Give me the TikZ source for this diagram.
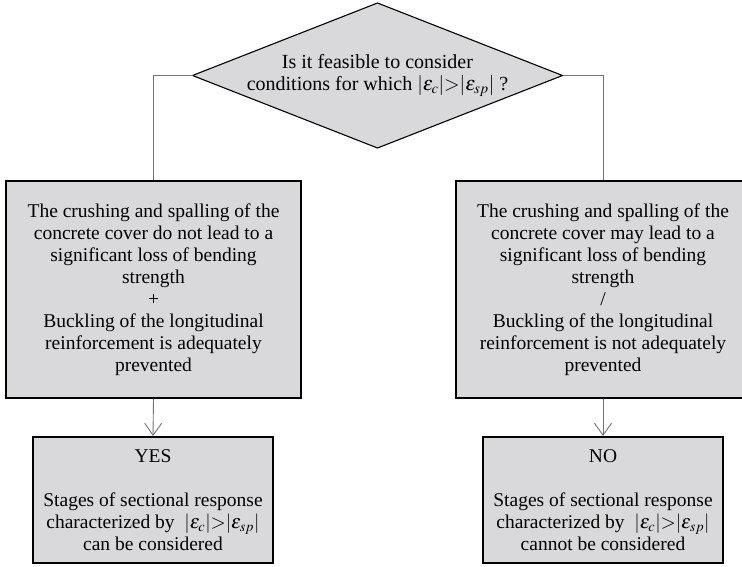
\documentclass[tikz,border=0pt]{standalone}
\usepackage{amsmath}
\usepackage{mathptmx}
\usepackage{fontspec}
\setmainfont{Liberation Serif}
\usepackage{xcolor}
\usepackage{tikz}
\usetikzlibrary{positioning, arrows.meta}
\definecolor{boxgray}{RGB}{217,217,220}
\tikzset{
    grayblock/.style={draw=black, line width=2pt, fill=boxgray, align=center, inner sep=0pt,
        font=\fontsize{19.5}{22}\selectfont},
    graylink/.style={draw=gray!90!black, line width=0.9pt}
}
\newcommand{\strainratio}{$|\varepsilon_c|{>}|\varepsilon_{sp}|$}

\begin{document}
\begin{tikzpicture}[x=1pt, y=-1pt]
    \useasboundingbox (0,0) rectangle (742,567);
    \clip (0,0) rectangle (742,567);

    % question
    \coordinate (Q) at (377.5, 75.5);
    \coordinate (QN) at (377.5, 3);
    \coordinate (QS) at (377.5, 148);
    \coordinate (QW) at (192.5, 75.5);
    \coordinate (QE) at (562.5, 75.5);
    \filldraw[fill=boxgray, draw=black, line width=1.1pt] (QN) -- (QE) -- (QS) -- (QW) -- cycle;
    \node[align=center, font=\fontsize{20}{22.5}\selectfont] (question) at (Q)
        {Is it feasible to consider\\conditions for which \strainratio\ ?};

    % middle boxes
    \node[grayblock, minimum width=295pt, minimum height=217pt] (crushOK) at (153.5, 289.5)
        {The crushing and spalling of the\\concrete cover do not lead to a\\significant loss of bending\\strength\\+\\Buckling of the longitudinal\\reinforcement is adequately\\prevented};
    \node[grayblock, minimum width=295pt, minimum height=217pt] (crushNO) at (603, 289.5)
        {The crushing and spalling of the\\concrete cover may lead to a\\significant loss of bending\\strength\\/\\Buckling of the longitudinal\\reinforcement is not adequately\\prevented};

    % answers
    \node[grayblock, minimum width=240pt, minimum height=126pt] (yes) at (153, 500)
        {YES\\[22pt]Stages of sectional response\\characterized by~~\strainratio\\can be considered};
    \node[grayblock, minimum width=240pt, minimum height=126pt] (no) at (603, 500)
        {NO\\[22pt]Stages of sectional response\\characterized by~~\strainratio\\cannot be considered};

    \draw[graylink] (QW) -| (crushOK.north);
    \draw[graylink] (QE) -| (crushNO.north);
    \draw[graylink, -{Straight Barb[length=12pt, width=17pt]}] (crushOK.south) -- (yes.north);
    \draw[graylink, -{Straight Barb[length=12pt, width=17pt]}] (crushNO.south) -- (no.north);
\end{tikzpicture}
\end{document}
